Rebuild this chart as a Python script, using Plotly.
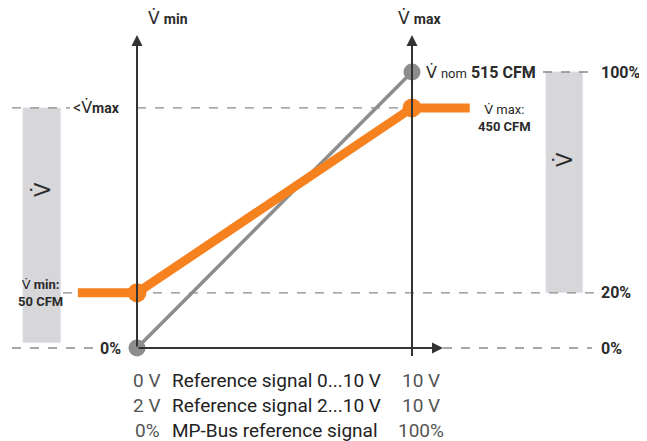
import plotly.graph_objects as go

# ---- data (signal in V on x, volume flow in % of nominal on y) ----
grey_x = [0, 10]            # nominal characteristic
grey_y = [0, 100]
orange_x = [-2.15, 0, 10, 12.1]   # set characteristic incl. flat ends
orange_y = [20, 20, 87, 87]
orange_marker_x = [0, 10]
orange_marker_y = [20, 87]
vmin_pct = 20
vmax_pct = 87
right_ticks = ["100%", "20%", "0%"]
right_tick_vals = [100, 20, 0]
row_left = ["0 V", "2 V", "0%"]
row_mid = ["Reference signal 0...10 V", "Reference signal 2...10 V", "MP-Bus reference signal"]
row_right = ["10 V", "10 V", "100%"]

OFF = 8                     # page body margin
W, H = 647 - OFF, 441 - OFF
PX_X = 27.5   # px per V
PX_Y = 2.76   # px per %
X0, Y0 = 137, 348           # page pixel of the origin

def px2x(p):
    return (p - X0) / PX_X

def px2y(p):
    return (Y0 - p) / PX_Y

fig = go.Figure()

DASH = dict(color="#8a8a8a", width=1.3, dash="dash")

def dline(x0, x1, y):
    fig.add_trace(go.Scatter(x=[x0, x1], y=[y, y], mode="lines", line=DASH,
                             hoverinfo="skip", showlegend=False))

# grey bands
fig.add_trace(go.Bar(x=[px2x(42)], y=[vmax_pct - px2y(343)], base=[px2y(343)],
                     width=[38 / PX_X], marker_color="#d7d7da", showlegend=False,
                     hoverinfo="skip"))
fig.add_trace(go.Bar(x=[px2x(564.5)], y=[100 - vmin_pct], base=[vmin_pct],
                     width=[37 / PX_X], marker_color="#d7d7da", showlegend=False,
                     hoverinfo="skip"))

# dashed reference lines
dline(px2x(12), px2x(70), vmax_pct)
dline(0, 10, vmax_pct)
dline(px2x(63), px2x(597), vmin_pct)
dline(px2x(525), px2x(597), 100)
dline(px2x(12), px2x(95), 0)
dline(px2x(443), px2x(592), 0)

# right vertical axis line (extends slightly below)
fig.add_trace(go.Scatter(x=[10, 10], y=[px2y(356), px2y(45)], mode="lines",
                         line=dict(color="#333", width=2), hoverinfo="skip",
                         showlegend=False))

# characteristic lines
fig.add_trace(go.Scatter(x=grey_x, y=grey_y, mode="lines+markers",
                         line=dict(color="#8d8d8d", width=3.5),
                         marker=dict(size=17, color="#8d8d8d"),
                         hoverinfo="skip", showlegend=False))
fig.add_trace(go.Scatter(x=orange_x, y=orange_y, mode="lines",
                         line=dict(color="#f5821f", width=9),
                         hoverinfo="skip", showlegend=False))
fig.add_trace(go.Scatter(x=orange_marker_x, y=orange_marker_y, mode="markers",
                         marker=dict(size=19, color="#f5821f"),
                         hoverinfo="skip", showlegend=False))

# arrows for the axes
arrow = dict(showarrow=True, arrowhead=2, arrowsize=1.1, arrowwidth=2,
             arrowcolor="#333", axref="x", ayref="y", text="", standoff=0)
fig.add_annotation(x=0, y=px2y(35), ax=0, ay=0, **arrow)
fig.add_annotation(x=10, y=px2y(35), ax=10, ay=px2y(200), **arrow)
fig.add_annotation(x=px2x(443), y=0, ax=0, ay=0, **arrow)

FONT = "Roboto, Arial, sans-serif"
C = "#2b2b2b"
VD = "<span style='font-family:DejaVu Sans'>V\u0307</span>"

def txt(x, y, s, size=14, xa="left", ya="middle", color=C, angle=0):
    fig.add_annotation(x=x, y=y, text=s, showarrow=False, xanchor=xa, yanchor=ya,
                       font=dict(family=FONT, size=size, color=color),
                       textangle=angle)

# axis titles
txt(px2x(146), px2y(18), VD + " <span style='font-size:14px'><b>min</b></span>", 17, "left")
txt(px2x(396), px2y(18), VD + " <span style='font-size:14px'><b>max</b></span>", 17, "left")

# left labels
txt(px2x(122), vmax_pct, "<" + VD + "<span style='font-size:14px'><b>max</b></span>", 16, "right")
txt(px2x(16), vmin_pct, VD + " <b>min:</b><br><b>50 CFM</b>", 13, "left")
txt(px2x(123), 0, "<b>0%</b>", 16, "right")

# right labels
txt(px2x(424), 100, VD + " <span style='font-size:13px'>nom</span> <b>515 CFM</b>", 16, "left")
txt(px2x(476), px2y(118), VD + " <span style='font-size:13px'>max:</span><br><b>450 CFM</b>", 13, "left")
for lab, v in zip(right_ticks, right_tick_vals):
    txt(px2x(599), v, "<b>" + lab + "</b>", 16, "left")

# V-dot in the bands
txt(px2x(42), px2y(190), VD, 21, "center", angle=-90)
txt(px2x(564), px2y(160), VD, 21, "center", angle=-90)

# signal table below
rows_y = [px2y(380), px2y(405), px2y(430)]
for ry, a, b, c in zip(rows_y, row_left, row_mid, row_right):
    txt(px2x(147), ry, a, 19, "center", color="#555")
    txt(px2x(170), ry, b, 19, "left", color="#222")
    txt(px2x(421), ry, c, 19, "center", color="#555")

fig.update_layout(
    width=W, height=H, margin=dict(l=0, r=0, t=0, b=0),
    paper_bgcolor="white", plot_bgcolor="white",
    xaxis=dict(range=[px2x(OFF), px2x(OFF + W)], visible=False, fixedrange=True),
    yaxis=dict(range=[px2y(OFF + H), px2y(OFF)], visible=False, fixedrange=True),
    barmode="overlay", showlegend=False, bargap=0,
)

fig.write_html("out.html")
